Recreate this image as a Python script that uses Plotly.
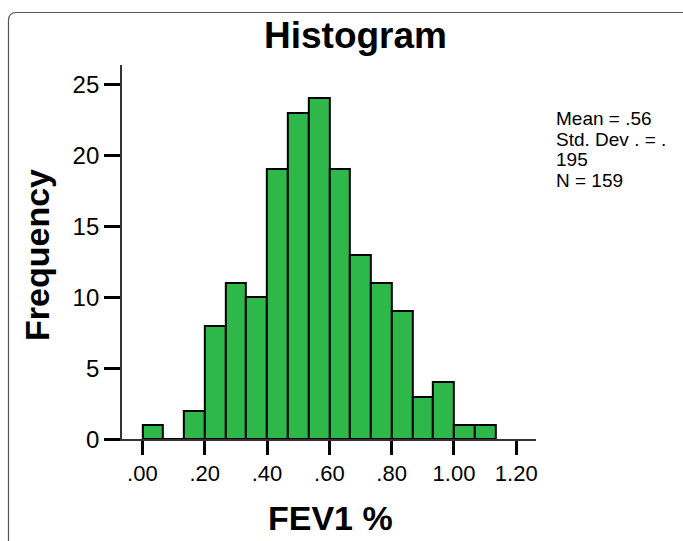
import plotly.graph_objects as go

# Data
counts = [1, 0, 2, 8, 11, 10, 19, 23, 24, 19, 13, 11, 9, 3, 4, 1, 1]
bin_start = 0.0
bin_width = 1 / 15
x_tickvals = [0.0, 0.2, 0.4, 0.6, 0.8, 1.0, 1.2]
x_ticktext = [".00", ".20", ".40", ".60", ".80", "1.00", "1.20"]
y_tickvals = [0, 5, 10, 15, 20, 25]
stats_lines = ["Mean = .56", "Std. Dev . = .", "195", "N = 159"]

W, H = 683, 541          # target picture size
FIG_H = 554              # figure height (captured page is resized to 541 high)
centers = [bin_start + (i + 0.5) * bin_width for i in range(len(counts))]

def px(x):
    return x / W

def py(y):
    return 1 - y / H

FONT = "Liberation Sans, Arial, sans-serif"

fig = go.Figure(
    go.Bar(
        x=centers,
        y=counts,
        width=bin_width,
        marker=dict(color="#2fb84a", line=dict(color="black", width=2)),
        hoverinfo="x+y",
    )
)

fig.update_layout(
    width=W,
    height=FIG_H,
    autosize=False,
    margin=dict(l=0, r=0, t=0, b=0),
    paper_bgcolor="white",
    plot_bgcolor="white",
    showlegend=False,
    bargap=0,
    xaxis=dict(
        domain=[px(122), px(537)],
        range=[-0.066, 1.264],
        tickvals=x_tickvals,
        ticktext=x_ticktext,
        ticks="outside",
        ticklen=14,
        tickwidth=3,
        tickcolor="black",
        showline=True,
        linecolor="#333",
        linewidth=1.5,
        showgrid=False,
        zeroline=False,
        tickfont=dict(family=FONT, size=22, color="black"),
    ),
    yaxis=dict(
        domain=[py(439.3), py(65)],
        range=[0, 26.35],
        tickvals=y_tickvals,
        ticks="outside",
        ticklen=16,
        tickwidth=3,
        tickcolor="black",
        showline=True,
        linecolor="#333",
        linewidth=1.5,
        showgrid=False,
        zeroline=False,
        tickfont=dict(family=FONT, size=24, color="black"),
    ),
)

stats_text = "<br>".join(f'<span style="font-size:19px">{s}</span>' for s in stats_lines)

annotations = [
    dict(text="<b>Histogram</b>", x=px(356), y=py(36), xanchor="center", yanchor="middle",
         font=dict(family=FONT, size=37, color="black")),
    dict(text="<b>Frequency</b>", x=px(37), y=py(255), xanchor="center", yanchor="middle",
         textangle=-90, font=dict(family=FONT, size=34, color="black")),
    dict(text="<b>FEV1 %</b>", x=px(331), y=py(518), xanchor="center", yanchor="middle",
         font=dict(family=FONT, size=34, color="black")),
    dict(text=stats_text, x=px(555), y=py(150), xanchor="left", yanchor="middle", align="left",
         font=dict(family=FONT, size=15.8, color="black")),
]
for a in annotations:
    a.update(xref="paper", yref="paper", showarrow=False)
fig.update_layout(annotations=annotations)

# Rounded frame
r = 8
x0, y0 = 8.5, 12.5
path = (f"M {px(x0)} {py(580)} L {px(x0)} {py(y0 + r)} "
        f"Q {px(x0)} {py(y0)} {px(x0 + r)} {py(y0)} L {px(700)} {py(y0)}")
fig.add_shape(type="path", path=path, xref="paper", yref="paper",
              line=dict(color="#555", width=1.2))

page_fix = (
    "document.documentElement.style.margin='0';"
    "document.body.style.margin='0';"
    "document.body.style.padding='0';"
    "document.documentElement.style.overflow='hidden';"
    "document.body.style.overflow='hidden';"
    "var g=document.getElementById('{plot_id}');"
    "g.style.position='fixed';g.style.left='0';g.style.top='0';"
)

fig.write_html("out.html", post_script=page_fix, config={"displayModeBar": False})
